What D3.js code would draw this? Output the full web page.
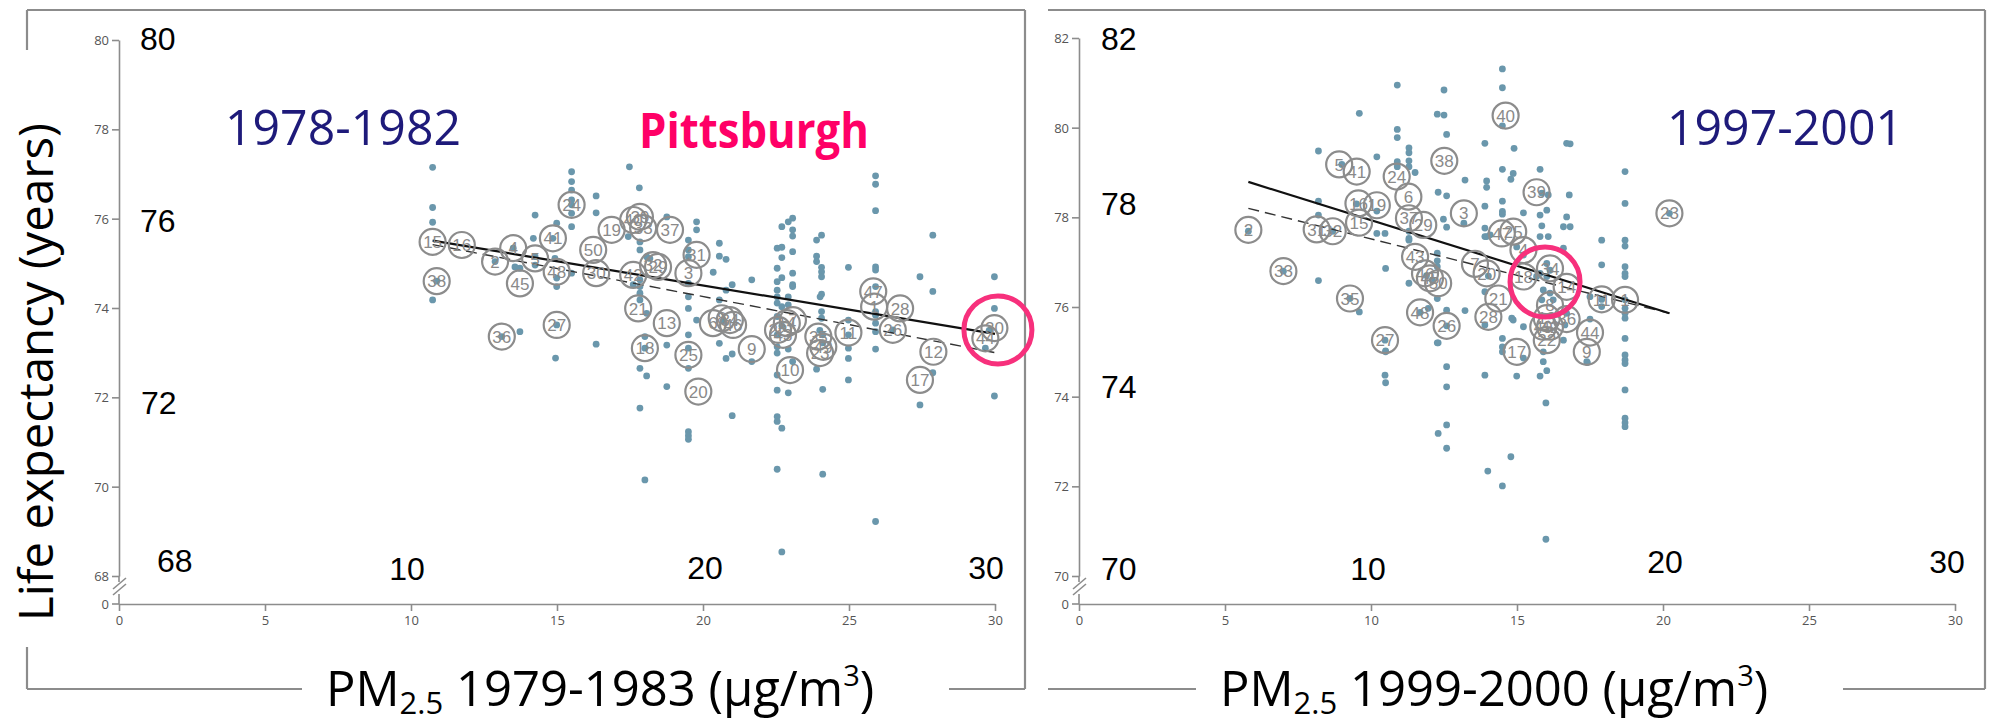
<!DOCTYPE html>
<html>
<head>
<meta charset="utf-8">
<script src="https://cdn.jsdelivr.net/npm/d3@7"></script>
<style>
  html, body { margin: 0; padding: 0; background: #fff; }
  svg { display: block; }
</style>
</head>
<body>
<svg id="chart" width="1991" height="723"></svg>
<script>
// ---------------- data ----------------
const periodEarly = "1978-1982";
const periodLate = "1997-2001";
const pmYearsEarly = "1979-1983";
const pmYearsLate = "1999-2000";
const yTitle = "Life expectancy (years)";
const cityName = "Pittsburgh";

const xTicks = [0, 5, 10, 15, 20, 25, 30];
const yTicksEarly = [68, 70, 72, 74, 76, 78, 80];
const yTicksLate = [70, 72, 74, 76, 78, 80, 82];
const bigYEarly = [80, 76, 72, 68];
const bigYLate = [82, 78, 74, 70];
const bigX = [10, 20, 30];

// county-level points: [PM2.5, life expectancy]
const dotsEarly = [
  [10.74,77.15],[10.74,76.25],[10.74,75.92],[10.74,74.18],[10.88,74.60],
  [12.88,75.04],[13.50,75.34],[13.56,74.92],[13.73,74.89],[13.73,73.47],[13.11,73.36],
  [14.25,76.08],[14.19,75.56],[14.86,75.56],[14.99,75.90],[14.25,75.15],[14.25,74.96],[14.93,75.11],[14.99,74.67],[14.99,74.48],[14.99,73.62],[14.95,72.88],
  [15.50,77.05],[15.50,76.83],[15.50,76.64],[15.50,76.42],[15.50,76.31],[15.50,76.12],[15.50,75.82],[15.50,74.78],
  [16.34,76.51],[16.34,76.13],[16.34,73.19],
  [17.48,77.16],[17.82,76.69],[18.76,76.04],[17.44,75.60],[17.84,75.48],[17.84,75.30],[18.07,75.15],[18.18,75.11],
  [17.84,74.63],[17.84,74.48],[17.84,74.33],[17.84,74.18],[17.61,74.52],[18.07,73.88],
  [18.76,73.17],[18.01,73.36],[18.01,73.10],[17.84,72.65],[18.07,72.48],[18.76,72.24],[17.84,71.76],[18.01,70.15],
  [19.78,75.93],[19.78,75.75],[19.50,75.52],[19.50,75.30],[19.50,75.15],[19.50,74.55],[19.50,74.25],[19.50,73.99],[19.78,73.73],
  [19.50,73.40],[19.50,73.10],[19.50,72.65],[19.50,71.23],[19.50,71.14],[19.50,71.06],
  [20.56,75.45],[20.56,75.16],[20.79,75.09],[20.35,74.80],[21.67,74.63],[21.00,74.52],[20.79,74.40],[20.56,74.18],[20.70,73.70],
  [20.56,73.21],[20.79,72.87],[21.00,72.97],[21.67,72.80],[21.00,71.59],
  [22.70,75.82],[22.54,75.34],[22.70,75.36],[22.70,75.13],[22.54,74.89],[22.70,74.68],[22.54,74.59],[22.54,74.40],[22.54,74.25],[22.54,74.11],
  [22.70,74.03],[22.54,73.81],[22.70,73.60],[22.54,73.40],[22.54,73.13],[22.54,72.99],[22.54,72.50],[22.54,72.16],[22.54,71.57],[22.54,71.46],
  [22.70,71.31],[22.54,70.39],[22.70,68.54],
  [23.07,76.01],[22.92,75.93],[23.07,75.75],[23.07,75.61],[23.07,75.26],[23.07,74.78],[23.07,74.52],[23.07,74.48],[22.92,74.25],[22.92,74.07],
  [22.92,73.08],[23.07,72.80],[22.92,72.10],
  [24.06,75.63],[23.89,75.52],[23.89,75.16],[23.89,75.04],[24.06,74.91],[24.06,74.81],[24.06,74.70],[24.06,74.31],[24.01,74.25],[24.06,73.92],
  [24.06,73.77],[24.00,73.50],[24.10,73.40],[24.10,73.22],[23.89,72.63],[24.10,72.18],[24.10,70.28],
  [24.98,74.91],[24.98,73.73],[24.98,73.40],[24.98,73.10],[24.98,72.87],[24.98,72.39],
  [25.91,76.96],[25.91,76.77],[25.91,76.18],[25.91,74.92],[25.91,74.85],[25.91,74.48],[25.91,73.92],[25.91,73.84],[25.91,73.66],[25.91,73.47],
  [25.91,73.08],[25.91,69.22],
  [26.50,73.51],[27.87,75.63],[27.43,74.70],[27.87,74.37],[27.87,72.55],[27.43,71.83],
  [29.98,74.70],[29.98,73.99],[29.80,73.50],[29.67,73.10],[29.98,72.03]
];

// metro-area points: [PM2.5, life expectancy, id]
const metrosEarly = [
  [10.74,75.48,"15"],[11.74,75.41,"16"],[10.88,74.60,"38"],[12.88,75.04,"2"],[13.50,75.34,"4"],
  [14.25,75.11,"5"],[13.73,74.55,"45"],[14.86,75.56,"41"],[14.99,74.81,"48"],[15.50,76.31,"24"],
  [16.24,75.30,"50"],[16.34,74.78,"30"],[16.87,75.75,"19"],[17.61,75.97,"40"],[17.84,76.04,"39"],
  [17.95,75.79,"33"],[18.87,75.75,"37"],[17.61,74.74,"42"],[18.29,74.96,"32"],[18.46,74.92,"29"],
  [17.78,73.99,"21"],[18.76,73.66,"13"],[18.01,73.10,"18"],[19.78,75.19,"31"],[19.50,74.78,"3"],
  [19.50,72.95,"25"],[19.84,72.13,"20"],[13.11,73.36,"36"],[14.99,73.62,"27"],
  [20.34,73.66,"6"],[20.64,73.77,"8"],[20.92,73.73,"34"],[21.03,73.62,"46"],[21.67,73.08,"9"],
  [22.57,73.51,"22"],[22.87,73.66,"14"],[23.08,73.73,"7"],[22.74,73.40,"43"],[22.98,72.61,"10"],
  [23.95,73.36,"35"],[24.12,73.13,"49"],[24.01,72.99,"23"],[24.98,73.45,"11"],[25.83,74.37,"47"],
  [25.86,74.03,"1"],[26.75,73.99,"28"],[26.50,73.51,"26"],[27.89,73.02,"12"],[27.43,72.39,"17"],
  [29.98,73.55,"30"],[29.67,73.32,"44"]
];

const dotsLate = [
  [14.50,81.31],[14.50,80.89],[10.90,80.95],[12.50,80.84],[9.60,80.32],[12.27,80.30],[12.50,80.28],[14.50,80.04],
  [10.90,79.96],[10.90,79.78],[12.59,79.85],[13.90,79.65],[14.90,79.54],[8.20,79.48],[10.20,79.35],
  [11.30,79.55],[11.30,79.44],[11.30,79.26],[11.30,79.13],[10.90,79.24],[10.90,79.13],[11.51,79.00],
  [14.50,79.07],[14.87,78.98],[14.79,78.85],[13.22,78.83],[12.30,78.56],[12.59,78.48],[13.96,78.81],[13.96,78.67],
  [13.90,78.25],[14.50,78.36],[14.50,78.13],[14.50,78.07],[8.20,78.36],[8.20,78.05],[10.20,78.14],[9.00,79.18],[9.50,78.30],
  [13.18,77.87],[12.48,77.96],[12.59,77.78],[10.20,77.64],[10.48,77.64],[11.30,77.69],[11.30,77.53],[11.30,77.49],[13.90,77.57],
  [5.80,77.69],[8.69,77.69],
  [12.27,77.20],[12.27,77.03],[12.27,76.90],[10.50,76.86],[14.02,76.69],[11.30,76.53],[8.20,76.59],[7.00,76.80],[9.28,76.19],
  [11.90,76.70],[12.10,76.60],
  [9.60,75.89],[11.96,75.97],[12.27,76.19],[12.59,75.93],[13.22,75.92],[13.90,75.60],[14.87,75.71],[11.68,75.88],[12.59,75.58],
  [12.27,75.20],[10.50,75.00],[10.48,75.26],
  [16.70,79.65],[16.82,79.64],[15.79,79.07],[15.85,78.54],[16.07,78.50],[16.79,78.50],[15.22,78.10],[16.02,78.16],[15.79,78.05],
  [16.70,78.01],[16.59,77.79],[16.82,77.79],[15.85,77.81],
  [13.90,77.76],[13.96,77.57],[14.08,77.61],[15.79,77.57],[16.07,77.57],[14.99,77.34],[15.22,77.16],[16.59,77.31],[17.90,77.49],
  [18.70,79.02],[18.70,78.31],[18.70,77.49],[18.70,77.36],[17.90,76.94],[18.70,76.90],[18.70,76.75],[18.70,76.68],
  [16.02,76.97],[16.13,76.82],[15.79,76.75],[15.67,76.68],[16.02,76.68],[15.90,76.38],[16.13,76.31],[15.85,76.16],[16.24,76.16],
  [17.50,76.23],[17.90,76.01],[13.90,76.34],[14.82,75.75],[15.22,75.56],[16.64,75.60],[16.70,75.86],[17.50,75.73],
  [14.50,75.30],[14.50,75.11],[14.50,75.00],[15.22,74.86],[15.90,75.00],[15.90,74.78],[16.59,75.26],[17.39,74.78],
  [18.70,75.97],[18.70,75.86],[18.70,75.75],[18.70,75.30],[18.70,74.93],[18.70,74.82],[18.70,74.74],[18.70,74.15],
  [18.70,73.52],[18.70,73.42],[18.70,73.33],
  [13.90,74.48],[14.99,74.46],[15.79,74.46],[16.02,74.58],[15.99,73.86],
  [12.59,74.67],[12.59,74.22],[12.59,73.37],[12.30,73.18],[12.59,72.85],[12.30,75.20],
  [10.48,74.48],[10.50,74.31],[10.50,75.02],
  [14.00,72.34],[14.50,72.01],[14.79,72.66],[15.99,70.82],[17.41,74.76],[20.22,78.09],[18.70,76.16],[17.90,76.17]
];

const metrosLate = [
  [5.80,77.72,"2"],[7.00,76.80,"33"],[8.14,77.73,"31"],[8.69,77.69,"32"],[8.91,79.18,"5"],
  [9.51,79.02,"41"],[9.57,78.31,"16"],[10.20,78.27,"19"],[9.59,77.88,"15"],[9.28,76.19,"35"],
  [10.88,78.91,"24"],[11.28,78.46,"6"],[11.30,77.98,"37"],[11.79,77.83,"29"],[12.51,79.26,"38"],
  [13.18,78.09,"3"],[11.51,77.12,"43"],[11.85,76.75,"46"],[12.02,76.64,"45"],[12.30,76.53,"50"],
  [11.68,75.88,"48"],[12.59,75.58,"26"],[10.48,75.26,"27"],[14.61,80.27,"40"],[13.56,76.96,"7"],
  [13.96,76.75,"20"],[14.02,75.78,"28"],[14.36,76.19,"21"],[14.48,77.64,"47"],[14.87,77.68,"25"],
  [15.22,77.27,"4"],[15.67,78.56,"39"],[16.13,76.86,"34"],[15.22,76.68,"18"],[16.70,76.45,"14"],
  [16.13,76.04,"8"],[16.02,75.75,"13"],[15.90,75.56,"49"],[16.13,75.56,"42"],[16.02,75.26,"22"],
  [14.99,75.00,"17"],[17.90,76.17,"11"],[18.70,76.16,"1"],[17.50,75.43,"44"],[17.39,75.00,"9"],
  [20.22,78.09,"23"],[16.70,75.73,"36"]
];

// fitted lines: [PM2.5, life expectancy] end points
const fitSolidEarly = [[10.74,75.51],[30,73.42]];
const fitDashedEarly = [[10.74,75.42],[30,73.00]];
const fitSolidLate = [[5.80,78.79],[20.22,75.86]];
const fitDashedLate = [[5.80,78.20],[20.22,75.86]];

const pittsburghEarly = [30.1, 73.51];
const pittsburghLate = [15.96, 76.56];

// ---------------- drawing ----------------
const svg = d3.select("#chart");
svg.append("rect").attr("width", 1991).attr("height", 723).attr("fill", "#fff");

const GRAY = "#8c8c8c";
const DOT = "#6a97ac";
const NAVY = "#1e1a7a";
const PINK = "#ff0066";
const RING = "#f7307c";

function frame(segs) {
  svg.append("g").selectAll("line").data(segs).join("line")
    .attr("x1", d => d[0]).attr("y1", d => d[1])
    .attr("x2", d => d[2]).attr("y2", d => d[3])
    .attr("stroke", GRAY).attr("stroke-width", 2.2);
}

function panel(cfg) {
  const g = svg.append("g");
  const x = d3.scaleLinear().domain([0, 30]).range([cfg.x0, cfg.x0 + 876]);
  const y = d3.scaleLinear().domain(cfg.yDomain).range([576, cfg.yTop]);
  const yZero = 604;

  // y axis (upper segment with ticks)
  const ya = g.append("g").attr("transform", `translate(${cfg.x0},0)`)
    .call(d3.axisLeft(y).tickValues(cfg.yTicks).tickSize(7).tickSizeOuter(0).tickPadding(3));
  // lower segment below the break, plus the zero tick
  ya.append("line").attr("x1", 0).attr("x2", 0).attr("y1", 576).attr("y2", 582);
  ya.append("line").attr("x1", 0).attr("x2", 0).attr("y1", 594).attr("y2", yZero);
  ya.append("line").attr("x1", -7).attr("x2", 0).attr("y1", yZero).attr("y2", yZero);
  ya.append("text").attr("x", -10).attr("y", yZero).attr("dy", "0.35em")
    .attr("text-anchor", "end").text("0");
  // break marks
  [0, 6].forEach(o => {
    ya.append("line").attr("x1", -6).attr("y1", 589 + o).attr("x2", 7).attr("y2", 578 + o)
      .attr("stroke", "#666").attr("stroke-width", 1.4);
  });

  const xa = g.append("g").attr("transform", `translate(0,${yZero})`)
    .call(d3.axisBottom(x).tickValues(xTicks).tickSize(7).tickSizeOuter(0).tickPadding(5));

  [ya, xa].forEach(a => {
    a.selectAll("path, line").attr("stroke", GRAY).attr("stroke-width", 1.6);
    a.selectAll("text").attr("fill", "#555").attr("font-family", "'Open Sans', sans-serif")
      .attr("font-size", 13);
  });
  ya.selectAll("g.tick text").attr("dy", "0.35em");

  // big reading labels
  cfg.bigY.forEach((v, i) => {
    g.append("text").attr("x", cfg.x0 + cfg.bigYdx[i]).attr("y", y(v) + cfg.bigYdy[i])
      .attr("font-family", "'Liberation Sans', Arial, sans-serif").attr("font-size", 32)
      .attr("fill", "#000").text(v);
  });
  bigX.forEach((v, i) => {
    g.append("text").attr("x", x(v) + cfg.bigXdx[i]).attr("y", cfg.bigXy[i])
      .attr("text-anchor", "middle")
      .attr("font-family", "'Liberation Sans', Arial, sans-serif").attr("font-size", 32)
      .attr("fill", "#000").text(v);
  });

  // county dots
  g.append("g").selectAll("circle").data(cfg.dots).join("circle")
    .attr("cx", d => x(d[0])).attr("cy", d => y(d[1])).attr("r", 3.4)
    .attr("fill", DOT);

  // fitted lines
  const line = d3.line().x(d => x(d[0])).y(d => y(d[1]));
  g.append("path").attr("d", line(cfg.fitDashed)).attr("fill", "none")
    .attr("stroke", "#333").attr("stroke-width", 1.4).attr("stroke-dasharray", "11,6");
  g.append("path").attr("d", line(cfg.fitSolid)).attr("fill", "none")
    .attr("stroke", "#111").attr("stroke-width", 2.2);

  // metro rings with ids
  const m = g.append("g").selectAll("g").data(cfg.metros).join("g")
    .attr("transform", d => `translate(${x(d[0])},${y(d[1])})`);
  m.append("circle").attr("r", 13).attr("fill", "none")
    .attr("stroke", GRAY).attr("stroke-width", 2.2);
  m.append("text").attr("text-anchor", "middle").attr("dy", "0.36em")
    .attr("font-family", "'Liberation Sans', Arial, sans-serif").attr("font-size", 17)
    .attr("fill", "#8a8a8a").text(d => d[2]);

  // highlighted city
  g.append("circle").attr("cx", x(cfg.city[0])).attr("cy", y(cfg.city[1]))
    .attr("r", cfg.ringR).attr("fill", "none").attr("stroke", RING).attr("stroke-width", 5);

  // period label
  g.append("text").attr("x", cfg.periodX).attr("y", 145)
    .attr("font-family", "'Open Sans', sans-serif").attr("font-size", 49)
    .attr("fill", NAVY).attr("textLength", 236).attr("lengthAdjust", "spacingAndGlyphs")
    .text(cfg.period);

  // x axis title
  const t = g.append("text").attr("x", cfg.titleX).attr("y", 706)
    .attr("font-family", "'Open Sans', sans-serif").attr("font-size", 49).attr("fill", "#000");
  t.append("tspan").text("PM");
  t.append("tspan").attr("font-size", 31).attr("dy", 8).text("2.5");
  t.append("tspan").attr("dy", -8).text(" " + cfg.pmYears + " (µg/m");
  t.append("tspan").attr("font-size", 29).attr("dy", -20).text("3");
  t.append("tspan").attr("dy", 20).text(")");
  return { x, y };
}

// left panel
frame([
  [27, 10, 1025, 10], [1025, 10, 1025, 689],
  [27, 689, 302, 689], [949, 689, 1025, 689],
  [27, 10, 27, 50], [27, 647, 27, 689]
]);
panel({
  x0: 119, yTop: 40, yDomain: [68, 80], yTicks: yTicksEarly,
  bigY: bigYEarly, bigYdx: [21, 21, 22, 38], bigYdy: [10, 13, 17, -4],
  bigXdx: [-4, 2, -9], bigXy: [580, 579, 579],
  dots: dotsEarly, metros: metrosEarly,
  fitSolid: fitSolidEarly, fitDashed: fitDashedEarly,
  city: pittsburghEarly, ringR: 34,
  period: periodEarly, periodX: 225,
  pmYears: pmYearsEarly, titleX: 326
});
svg.append("text").attr("x", 639).attr("y", 148)
  .attr("font-family", "'Open Sans', sans-serif").attr("font-weight", 700).attr("font-size", 48)
  .attr("fill", PINK).attr("textLength", 230).attr("lengthAdjust", "spacingAndGlyphs")
  .text(cityName);

// right panel
frame([
  [1048, 10, 1985, 10], [1985, 10, 1985, 689],
  [1048, 689, 1196, 689], [1843, 689, 1985, 689]
]);
panel({
  x0: 1079, yTop: 38, yDomain: [70, 82], yTicks: yTicksLate,
  bigY: bigYLate, bigYdx: [22, 22, 22, 22], bigYdy: [12, -2, 1, 4],
  bigXdx: [-3, 2, -8], bigXy: [580, 573, 573],
  dots: dotsLate, metros: metrosLate,
  fitSolid: fitSolidLate, fitDashed: fitDashedLate,
  city: pittsburghLate, ringR: 35,
  period: periodLate, periodX: 1667,
  pmYears: pmYearsLate, titleX: 1220
});

// shared y axis title
svg.append("text")
  .attr("transform", "translate(53,372) rotate(-90)")
  .attr("text-anchor", "middle")
  .attr("font-family", "'Open Sans', sans-serif").attr("font-size", 48).attr("fill", "#000")
  .attr("textLength", 498).attr("lengthAdjust", "spacingAndGlyphs")
  .text(yTitle);
</script>
</body>
</html>
